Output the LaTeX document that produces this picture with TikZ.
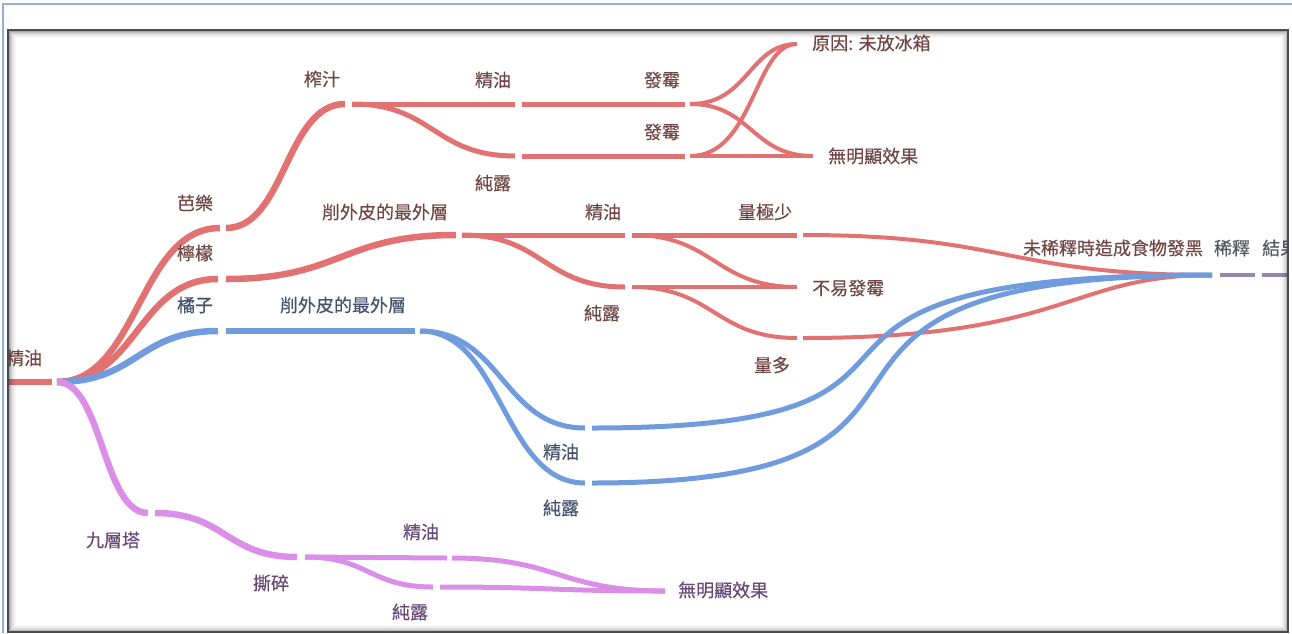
\documentclass[tikz,border=0pt]{standalone}
\usepackage{fontspec}
\newfontfamily\cjk{Noto Sans CJK TC}[FakeBold=0.4]
\usetikzlibrary{calc}
\definecolor{sred}{RGB}{226,114,114}
\definecolor{sblue}{RGB}{112,156,222}
\definecolor{svio}{RGB}{218,142,232}
\definecolor{smut}{RGB}{150,135,172}
\definecolor{tred}{RGB}{112,70,70}
\definecolor{tblue}{RGB}{70,82,108}
\definecolor{tvio}{RGB}{104,72,116}
\definecolor{tgray}{RGB}{88,88,98}
\definecolor{oframe}{RGB}{143,176,216}
\begin{document}
\begin{tikzpicture}[x=1pt,y=-1pt,
  skk/.style 2 args={to path={let \p1=(\tikztostart),\p2=(\tikztotarget) in
     .. controls ({\x1+#1*(\x2-\x1)},\y1) and ({\x2-#2*(\x2-\x1)},\y2) .. (\tikztotarget)}},
  sk/.style={skk={0.5}{0.5}},
  rl/.style={draw=sred,line width=6.5pt},
  rm/.style={draw=sred,line width=5pt},
  rs/.style={draw=sred,line width=4pt},
  bl/.style={draw=sblue,line width=6.5pt},
  bm/.style={draw=sblue,line width=5pt},
  vl/.style={draw=svio,line width=6.5pt},
  vm/.style={draw=svio,line width=5pt},
  ml/.style={draw=smut,line width=4pt},
  lbl/.style={font=\cjk\fontsize{18}{20}\selectfont,inner sep=0pt},
  lr/.style={lbl,text=tred},
  lb/.style={lbl,text=tblue},
  lv/.style={lbl,text=tvio},
  lg/.style={lbl,text=tgray}]
\useasboundingbox (0,0) rectangle (1292,633);
% outer frame
\draw[oframe,line width=1.5pt] (3,633) -- (3,4) -- (1292,4);

\begin{scope}
\clip (8,30) rectangle (1288,632);
% coordinates
\coordinate (rootA) at (4,382);   \coordinate (rootB) at (52,382); \coordinate (rootO) at (57,382);
\coordinate (balaI) at (220,228); \coordinate (balaO) at (226,228);
\coordinate (zhaI) at (345,104);  \coordinate (zhaO) at (352,104);
\coordinate (jyaI) at (515,104);  \coordinate (jyaO) at (522,104);
\coordinate (claI) at (515,156);  \coordinate (claO) at (522,156);
\coordinate (fmaI) at (685,104);  \coordinate (fmaO) at (690,104);
\coordinate (fmbI) at (685,156);  \coordinate (fmbO) at (690,156);
\coordinate (yyI) at (797,44);
\coordinate (wmaI) at (813,156);
\coordinate (nmI) at (218,279);   \coordinate (nmO) at (226,279);
\coordinate (xwaI) at (456,235);  \coordinate (xwaO) at (462,235);
\coordinate (jybI) at (625,235);  \coordinate (jybO) at (632,235);
\coordinate (clbI) at (625,287);  \coordinate (clbO) at (632,287);
\coordinate (jsI) at (797,235);   \coordinate (jsO) at (803,235);
\coordinate (byI) at (797,287);
\coordinate (ldI) at (797,338);   \coordinate (ldO) at (803,338);
\coordinate (wxI) at (1212,275);  \coordinate (wxO) at (1220,275);
\coordinate (xsI) at (1255,275);  \coordinate (xsO) at (1262,275);
\coordinate (jgI) at (1298,275);
\coordinate (jzI) at (218,331);   \coordinate (jzO) at (226,331);
\coordinate (xwbI) at (415,331);  \coordinate (xwbO) at (420,331);
\coordinate (jycI) at (585,428);  \coordinate (jycO) at (592,428);
\coordinate (clcI) at (585,483);  \coordinate (clcO) at (592,483);
\coordinate (jcI) at (148,513);   \coordinate (jcO) at (155,513);
\coordinate (ssI) at (297,557);   \coordinate (ssO) at (305,557);
\coordinate (jydI) at (447,558);  \coordinate (jydO) at (452,558);
\coordinate (cldI) at (433,587);  \coordinate (cldO) at (440,587);
\coordinate (wmbI) at (665,591);

% red links
\draw[rl] (rootA) -- (rootB);
\draw[rl] (rootO) to[sk] (balaI);
\draw[rl] (rootO) to[sk] (nmI);
\draw[rl] (balaO) to[sk] (zhaI);
\draw[rm] (zhaO) to[sk] (jyaI);
\draw[rm] (zhaO) to[sk] (claI);
\draw[rm] (jyaO) to[sk] (fmaI);
\draw[rm] (claO) to[sk] (fmbI);
\draw[rs] (fmaO) to[skk={0.55}{0.45}] (yyI);
\draw[rs] (fmaO) to[sk] (wmaI);
\draw[rs] (fmbO) to[skk={0.6}{0.4}] (yyI);
\draw[rs] (fmbO) to[sk] (wmaI);
\draw[rl] (nmO) to[sk] (xwaI);
\draw[rm] (xwaO) to[sk] (jybI);
\draw[rm] (xwaO) to[sk] (clbI);
\draw[rm] (jybO) to[sk] (jsI);
\draw[rs] (jybO) to[sk] (byI);
\draw[rs] (clbO) to[sk] (byI);
\draw[rs] (clbO) to[sk] (ldI);
\draw[rs] (jsO) to[sk] (wxI);
\draw[rs] (ldO) to[skk={0.65}{0.35}] (wxI);
% blue links
\draw[bl] (rootO) to[sk] (jzI);
\draw[bl] (jzO) to[sk] (xwbI);
\draw[bm] (xwbO) to[sk] (jycI);
\draw[bm] (xwbO) to[sk] (clcI);
\draw[bm] (jycO) to[skk={0.7}{0.84}] (wxI);
\draw[bm] (clcO) to[skk={0.72}{0.82}] (wxI);
% violet links
\draw[vl] (rootO) to[sk] (jcI);
\draw[vl] (jcO) to[sk] (ssI);
\draw[vm] (ssO) to[sk] (jydI);
\draw[vm] (ssO) to[sk] (cldI);
\draw[vm] (jydO) to[sk] (wmbI);
\draw[vm] (cldO) to[sk] (wmbI);
% final links
\draw[ml] (wxO) to[sk] (xsI);
\draw[ml] (xsO) to[sk] (jgI);

% labels
\node[lr] (lroot) at (24,358) {精油};
\node[lr] (lbala) at (195,203) {芭樂};
\node[lr] (lnm) at (195,253) {檸檬};
\node[lb] (ljz) at (195,305) {橘子};
\node[lr] (lzha) at (322,79) {榨汁};
\node[lr] (lxwa) at (385,212) {削外皮的最外層};
\node[lb] (lxwb) at (343,305) {削外皮的最外層};
\node[lr] (ljya) at (493,80) {精油};
\node[lr] (lcla) at (493,183) {純露};
\node[lr] (lfma) at (662,80) {發霉};
\node[lr] (lfmb) at (662,132) {發霉};
\node[lr,anchor=west] (lyy) at (812,43) {原因: 未放冰箱};
\node[lr,anchor=west] (lwma) at (828,156) {無明顯效果};
\node[lr] (ljyb) at (603,212) {精油};
\node[lr] (lclb) at (602,313) {純露};
\node[lr] (ljs) at (765,212) {量極少};
\node[lr,anchor=west] (lby) at (812,288) {不易發霉};
\node[lr] (lld) at (772,365) {量多};
\node[lb] (ljyc) at (561,452) {精油};
\node[lb] (lclc) at (561,508) {純露};
\node[lv] (ljc) at (113,540) {九層塔};
\node[lv] (lss) at (271,583) {撕碎};
\node[lv] (ljyd) at (421,532) {精油};
\node[lv] (lcld) at (410,612) {純露};
\node[lv,anchor=west] (lwmb) at (678,590) {無明顯效果};
\node[lr] (lwx) at (1113,248) {未稀釋時造成食物發黑};
\node[lg] (lxs) at (1232,248) {稀釋};
\node[lg,anchor=west] (ljg) at (1262,248) {結果};
\end{scope}

% inner frame with shadow
\foreach \i/\o in {1/0.35,2/0.25,3/0.18,4/0.12,5/0.08,6/0.05,7/0.03}{
  \draw[black,opacity=\o,line width=1pt] (8+\i,30+\i) rectangle (1288-\i,632-\i);
}
\draw[black!70,line width=2pt] (8,30) rectangle (1288,632);
\end{tikzpicture}
\end{document}
